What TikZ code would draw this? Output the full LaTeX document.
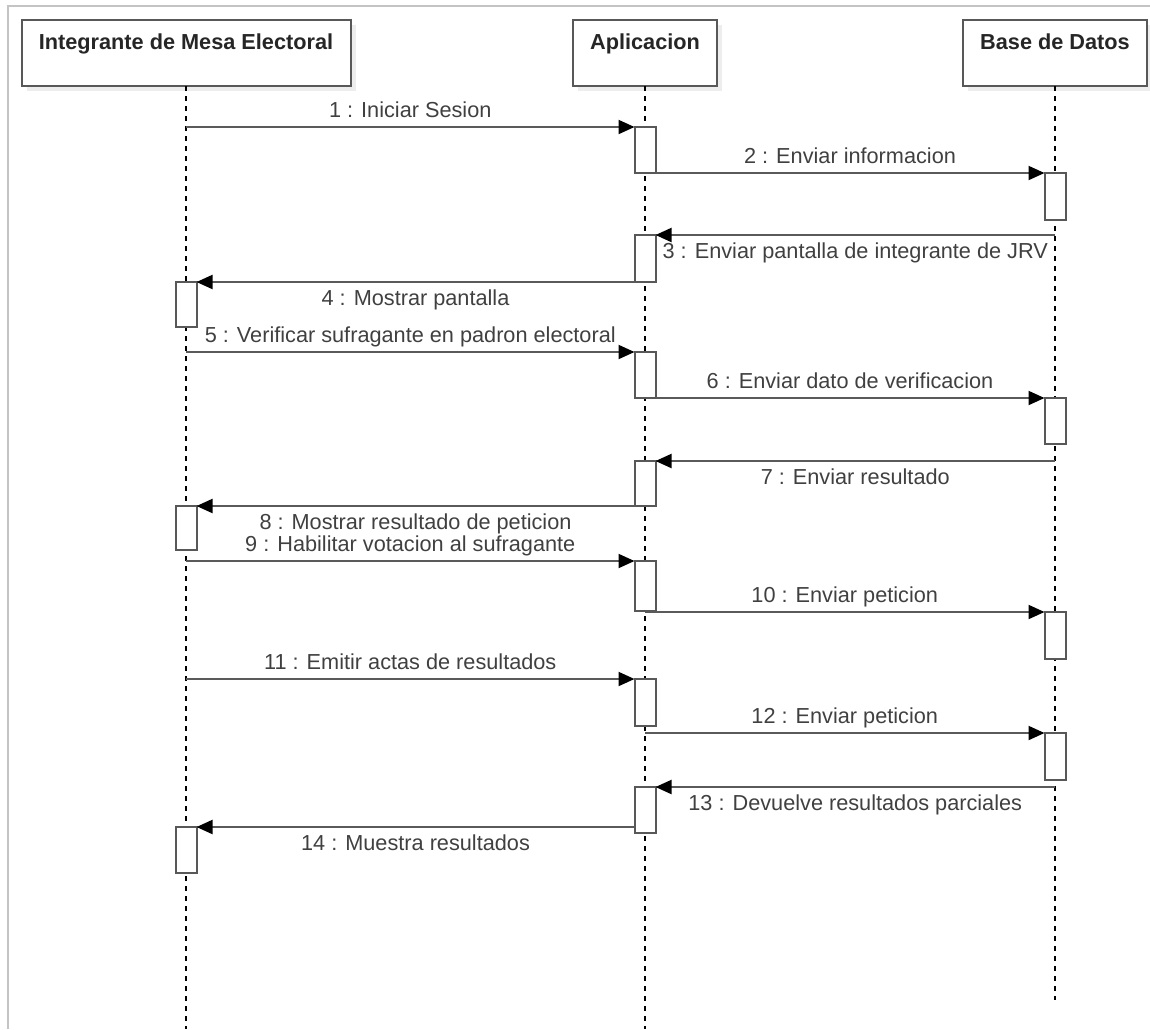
\documentclass[tikz,border=0pt]{standalone}
\usepackage{fontspec}
\setmainfont{Liberation Sans}
\usetikzlibrary{arrows.meta,shadows}

\definecolor{boxline}{HTML}{585858}
\definecolor{msgline}{HTML}{5A5A5A}
\definecolor{lbltext}{HTML}{404040}
\definecolor{headtext}{HTML}{262626}
\definecolor{framegray}{HTML}{C4C4C4}

\begin{document}
\begin{tikzpicture}[x=1pt,y=-1pt,
  header/.style={draw=boxline, line width=2pt, fill=white, inner sep=0pt, outer sep=0pt,
    text height=29pt, text depth=37pt, anchor=north,
    font=\fontsize{21.7}{26}\selectfont\bfseries, text=headtext,
    drop shadow={shadow xshift=5pt, shadow yshift=-5pt, fill=black, opacity=0.07}},
  lifeline/.style={draw=black, line width=1.6pt, dash pattern=on 5pt off 5pt},
  act/.style={draw=boxline, line width=2pt, fill=white, inner sep=0pt, outer sep=0pt,
    minimum width=21pt, anchor=north},
  msg/.style={draw=msgline, line width=2pt, -{Triangle[length=16pt,width=14pt,color=black]}},
  lblup/.style={midway, anchor=base, yshift=10pt, inner sep=0pt,
    font=\fontsize{21.7}{26}\selectfont, text=lbltext},
  lbldown/.style={midway, anchor=base, yshift=-23pt, inner sep=0pt,
    font=\fontsize{21.7}{26}\selectfont, text=lbltext},
  frame/.style={draw=framegray, line width=2pt}
]
\useasboundingbox (0,0) rectangle (1150,1029);

% outer frame edges
\draw[frame] (8,1029) -- (8,6) -- (1150,6);

% lifeline heads
\node[header, minimum width=329pt] (h1) at (186,20) {Integrante de Mesa Electoral};
\node[header, minimum width=144pt] (h2) at (645,20) {Aplicacion};
\node[header, minimum width=184pt] (h3) at (1055,20) {Base de Datos};

% lifelines
\coordinate (e1) at (186,1029);
\coordinate (e2) at (645,1029);
\coordinate (e3) at (1055,1000);
\draw[lifeline] (h1.south) -- (e1);
\draw[lifeline] (h2.south) -- (e2);
\draw[lifeline] (h3.south) -- (e3);

% activation bars
\node[act, minimum height=46pt] (a1)  at (645,127) {};
\node[act, minimum height=47pt] (b2)  at (1055,173) {};
\node[act, minimum height=47pt] (a3)  at (645,235) {};
\node[act, minimum height=45pt] (i4)  at (186,282) {};
\node[act, minimum height=46pt] (a5)  at (645,352) {};
\node[act, minimum height=46pt] (b6)  at (1055,398) {};
\node[act, minimum height=45pt] (a7)  at (645,461) {};
\node[act, minimum height=44pt] (i8)  at (186,506) {};
\node[act, minimum height=50pt] (a9)  at (645,561) {};
\node[act, minimum height=47pt] (b10) at (1055,612) {};
\node[act, minimum height=47pt] (a11) at (645,679) {};
\node[act, minimum height=47pt] (b12) at (1055,733) {};
\node[act, minimum height=46pt] (a13) at (645,787) {};
\node[act, minimum height=46pt] (i14) at (186,827) {};

% messages
\draw[msg] (h1.south |- a1.north) -- (a1.north west)
  node[lblup] {1 : Iniciar Sesion};
\draw[msg] (a1.south east) -- (b2.north west)
  node[lblup] {2 : Enviar informacion};
\draw[msg] (h3.south |- a3.north) -- (a3.north east)
  node[lbldown] {3 : Enviar pantalla de integrante de JRV};
\draw[msg] (a3.south west) -- (i4.north east)
  node[lbldown] {4 : Mostrar pantalla};
\draw[msg] (h1.south |- a5.north) -- (a5.north west)
  node[lblup] {5 : Verificar sufragante en padron electoral};
\draw[msg] (a5.south east) -- (b6.north west)
  node[lblup] {6 : Enviar dato de verificacion};
\draw[msg] (h3.south |- a7.north) -- (a7.north east)
  node[lbldown] {7 : Enviar resultado};
\draw[msg] (a7.south west) -- (i8.north east)
  node[lbldown] {8 : Mostrar resultado de peticion};
\draw[msg] (h1.south |- a9.north) -- (a9.north west)
  node[lblup] {9 : Habilitar votacion al sufragante};
\draw[msg] (h2.south |- b10.north) -- (b10.north west)
  node[lblup] {10 : Enviar peticion};
\draw[msg] (h1.south |- a11.north) -- (a11.north west)
  node[lblup] {11 : Emitir actas de resultados};
\draw[msg] (h2.south |- b12.north) -- (b12.north west)
  node[lblup] {12 : Enviar peticion};
\draw[msg] (h3.south |- a13.north) -- (a13.north east)
  node[lbldown] {13 : Devuelve resultados parciales};
\draw[msg] (a13.west |- i14.north) -- (i14.north east)
  node[lbldown] {14 : Muestra resultados};
\end{tikzpicture}
\end{document}
